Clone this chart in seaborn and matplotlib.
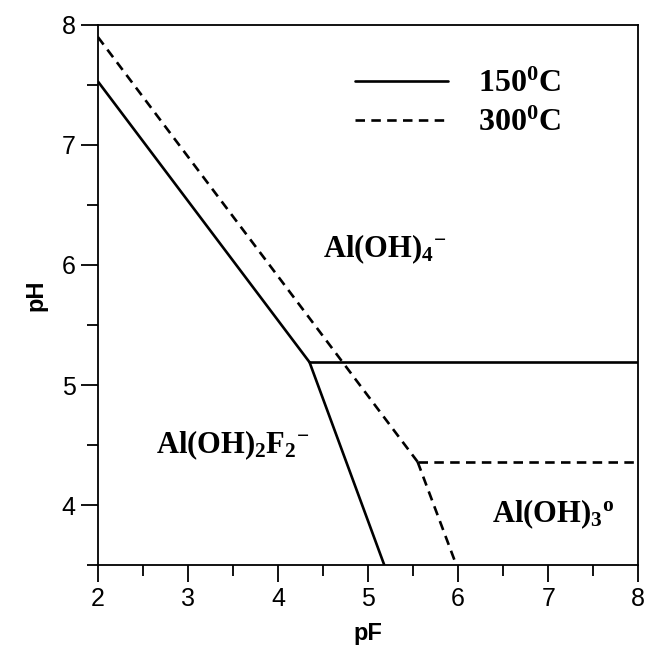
import matplotlib
matplotlib.use("Agg")
import matplotlib.pyplot as plt
from matplotlib.lines import Line2D
from matplotlib.ticker import MultipleLocator
import seaborn as sns
import pandas as pd

# boundary lines (pF, pH)
pf_150_upper = [2.0, 4.35]
ph_150_upper = [7.53, 5.19]
pf_150_flat = [4.35, 8.0]
ph_150_flat = [5.19, 5.19]
pf_150_lower = [4.35, 5.18]
ph_150_lower = [5.19, 3.5]

pf_300_upper = [2.0, 5.55]
ph_300_upper = [7.90, 4.36]
pf_300_flat = [5.55, 8.0]
ph_300_flat = [4.36, 4.36]
pf_300_lower = [5.55, 5.98]
ph_300_lower = [4.36, 3.5]

species = [r"$\mathrm{Al(OH)}_4{}^{\mathbf{-}}$",
           r"$\mathrm{Al(OH)}_2\mathrm{F}_2{}^{\mathbf{-}}$",
           r"$\mathrm{Al(OH)}_3{}^{\mathrm{o}}$"]
species_pf = [4.5, 2.65, 6.38]
species_ph = [6.13, 4.5, 3.92]

temps = [r"150$^{\mathrm{0}}$C", r"300$^{\mathrm{0}}$C"]

sns.set_style("ticks")
plt.rcParams["font.family"] = ["Liberation Sans", "DejaVu Sans"]
plt.rcParams["text.color"] = "black"
plt.rcParams["mathtext.fontset"] = "custom"
plt.rcParams["mathtext.rm"] = "Liberation Serif:bold"
plt.rcParams["mathtext.it"] = "Liberation Serif:bold"
plt.rcParams["mathtext.bf"] = "Liberation Serif:bold"

rows = []
for seg, (xs, ys, t) in enumerate([
        (pf_150_upper, ph_150_upper, "150"), (pf_150_flat, ph_150_flat, "150"),
        (pf_150_lower, ph_150_lower, "150"), (pf_300_upper, ph_300_upper, "300"),
        (pf_300_flat, ph_300_flat, "300"), (pf_300_lower, ph_300_lower, "300")]):
    for x, y in zip(xs, ys):
        rows.append({"pF": x, "pH": y, "temp": t, "seg": seg})
df = pd.DataFrame(rows)

fig = plt.figure(figsize=(6.48, 6.57), dpi=100)
ax = fig.add_axes([0.151, 0.140, 0.834, 0.822])

sns.lineplot(data=df, x="pF", y="pH", style="temp", units="seg", estimator=None,
             dashes={"150": "", "300": (3.6, 2.4)}, color="black", linewidth=1.9,
             legend=False, ax=ax, sort=False)

for s, x, y in zip(species, species_pf, species_ph):
    ax.text(x, y, s, fontsize=22, va="center", ha="left", color="black")

handles = [Line2D([], [], color="black", lw=1.9),
           Line2D([], [], color="black", lw=1.9, ls=(0, (3.6, 2.4)))]
leg = ax.legend(handles, temps, loc="upper left", bbox_to_anchor=(0.423, 0.97),
                frameon=False, prop={"family": "Liberation Serif", "weight": "bold", "size": 23},
                handlelength=2.9, handletextpad=0.95, labelspacing=0.3)
for t in leg.get_texts():
    t.set_color("black")

ax.set_xlim(2, 8)
ax.set_ylim(3.5, 8)
ax.xaxis.set_major_locator(MultipleLocator(1))
ax.xaxis.set_minor_locator(MultipleLocator(0.5))
ax.yaxis.set_major_locator(MultipleLocator(1))
ax.yaxis.set_minor_locator(MultipleLocator(0.5))
ax.set_yticks([4, 5, 6, 7, 8])
ax.tick_params(which="major", direction="out", length=12, width=1.3,
               labelsize=18, pad=4, top=False, right=False,
               colors="black", labelcolor="black")
ax.tick_params(which="minor", direction="out", length=8, width=1.3,
               top=False, right=False, colors="black")
for sp in ax.spines.values():
    sp.set_linewidth(1.3)
    sp.set_color("black")
    sp.set_visible(True)
ax.set_xlabel("pF", fontsize=17, fontweight="bold", labelpad=8, color="black")
ax.set_ylabel("pH", fontsize=17, fontweight="bold", labelpad=10, color="black")

fig.savefig("out.png", dpi=100)
